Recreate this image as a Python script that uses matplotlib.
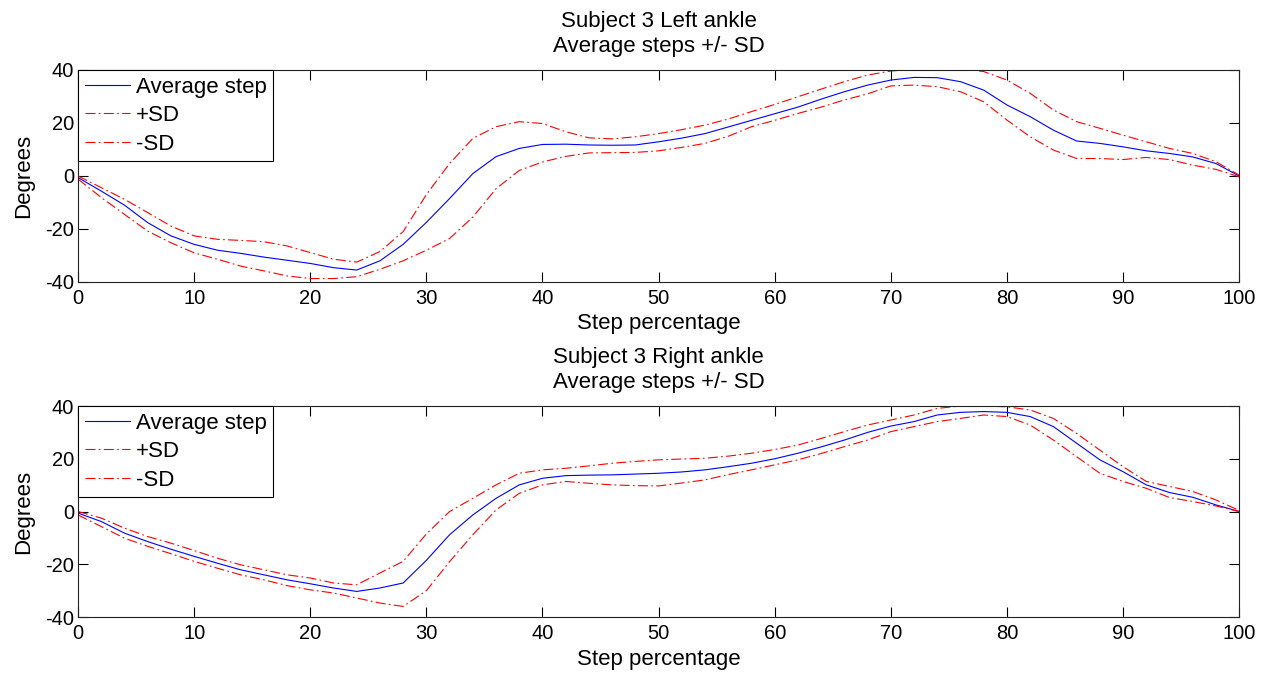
import matplotlib
matplotlib.use("Agg")
import matplotlib.pyplot as plt

########## data ##########
step_pct = list(range(0, 101, 2))

left_mean = [-0.6, -5.7, -11, -17.6, -22.6, -25.8, -28, -29.2, -30.6, -31.8,
             -33, -34.6, -35.5, -32, -25.8, -17.5, -8.5, 0.9, 7.3, 10.4,
             11.9, 12, 11.7, 11.6, 11.7, 12.9, 14.3, 16, 18.5, 21,
             23.5, 26, 29, 31.8, 34.3, 36.2, 37.2, 37.1, 35.6, 32.4,
             26.8, 22.4, 17.3, 13.2, 12.3, 11, 9.5, 8.5, 7.2, 4.7, 0]
left_plus = [0, -4.4, -8.8, -13.8, -18.9, -22.6, -23.9, -24.3, -24.8, -26.4,
             -28.9, -31.4, -32.5, -28.5, -21, -7, 4.7, 14.2, 18.6, 20.5,
             19.8, 16.7, 14.4, 14, 14.8, 16, 17.5, 19.2, 21.5, 24.3,
             27, 29.9, 32.8, 35.6, 38.1, 39.6, 40.3, 40.6, 40.6, 39.4,
             36.2, 31.2, 24.9, 20.5, 18, 15.4, 12.9, 10.4, 8.5, 5.4, 0.3]
left_minus = [-1.2, -8.1, -14.5, -20.8, -25.2, -29, -31.4, -34, -35.8, -37.7,
              -38.7, -38.7, -38, -35.2, -32, -28, -23.6, -15.5, -4.8, 2.1,
              5.3, 7.4, 8.7, 8.8, 8.9, 9.5, 10.8, 12.3, 15, 18.6,
              21, 23.6, 26, 28.7, 31, 34, 34.3, 33.7, 31.8, 28,
              21.1, 14.8, 9.8, 6.6, 6.6, 6.2, 7, 6.2, 4.1, 2.5, -0.3]

right_mean = [-0.6, -3.8, -8.2, -11.4, -14.3, -17, -19.6, -22.1, -24, -25.9,
              -27.4, -29, -30.3, -29, -27.1, -18.5, -8.8, -1.3, 5, 10.1,
              12.6, 13.6, 13.8, 13.9, 14.2, 14.5, 15, 15.8, 17, 18.3,
              20, 22.1, 24.5, 27.1, 30, 32.4, 34.1, 36.6, 37.6, 37.9,
              37.6, 36, 32.2, 25.9, 19.6, 15.1, 10.1, 7.2, 5.4, 2.5, 0]
right_plus = [0, -2.5, -6.3, -9.5, -12, -14.8, -17.7, -20.2, -22.1, -24,
              -25.2, -27.1, -27.8, -23.3, -18.9, -8.5, 0, 5, 10.1, 14.5,
              15.8, 16.4, 17.3, 18.3, 19, 19.6, 19.9, 20.2, 21, 22.1,
              23.5, 25.2, 27.7, 30.3, 32.8, 34.7, 36.6, 39.1, 40, 40,
              39.7, 38.5, 35.3, 29.6, 23.3, 17, 11.4, 9.5, 7.6, 4.4, 0.4]
right_minus = [-1.3, -5.7, -10.1, -13.2, -16, -18.9, -21.5, -24, -25.9, -28.1,
               -29.7, -30.9, -32.8, -34.7, -36, -30, -19, -8.8, 0.6, 6.9,
               10.1, 11.4, 10.7, 10.1, 9.8, 9.7, 10.8, 12, 14, 15.8,
               17.7, 19.6, 22, 24.6, 27.1, 30.3, 32.2, 34.1, 35.3, 36.6,
               36, 32.8, 27.1, 20.8, 14.5, 11.4, 8.8, 5.3, 3.8, 2.1, 0]

x_ticks = [0, 10, 20, 30, 40, 50, 60, 70, 80, 90, 100]
y_ticks = [-40, -20, 0, 20, 40]

########## drawing ##########
plt.rcParams['font.family'] = ['Liberation Sans', 'DejaVu Sans']
plt.rcParams['axes.unicode_minus'] = False
FS_TICK = 14.5
FS = 16

fig = plt.figure(figsize=(12.69, 6.73), dpi=100)
ax_top = fig.add_axes([0.0615, 0.581, 0.915, 0.315])
ax_bot = fig.add_axes([0.0615, 0.0832, 0.915, 0.3135])


def draw_panel(ax, mean, plus, minus, side):
    ax.plot(step_pct, mean, color=(0, 0, 1), lw=0.8, label="Average step")
    ax.plot(step_pct, plus, color=(1, 0, 0), lw=0.8, dashes=(9, 3, 1.5, 3), label="+SD")
    ax.plot(step_pct, minus, color=(1, 0, 0), lw=0.8, dashes=(9, 3, 1.5, 3), label="-SD")
    ax.set_xlim(0, 100)
    ax.set_ylim(-40, 40)
    ax.set_xticks(x_ticks)
    ax.set_yticks(y_ticks)
    ax.tick_params(direction='in', top=True, right=True, length=7, width=0.8,
                   labelsize=FS_TICK, pad=3)
    ax.tick_params(axis='x', pad=5)
    for s in ax.spines.values():
        s.set_linewidth(0.8)
        s.set_color('#222222')
    ax.set_xlabel("Step percentage", fontsize=FS, labelpad=4)
    ax.set_ylabel("Degrees", fontsize=FS, labelpad=8)
    ax.set_title("Subject 3 " + side + " ankle\nAverage steps +/- SD", fontsize=FS, pad=13,
                 linespacing=1.25)
    leg = ax.legend(loc='upper left', fontsize=FS, borderaxespad=0, fancybox=False,
                    handlelength=2.05, handletextpad=0.25, labelspacing=0.34,
                    borderpad=0.3, framealpha=1)
    leg.get_frame().set_edgecolor('black')
    leg.get_frame().set_linewidth(0.8)


draw_panel(ax_top, left_mean, left_plus, left_minus, "Left")
draw_panel(ax_bot, right_mean, right_plus, right_minus, "Right")

fig.savefig("out.png", dpi=100, facecolor='white')
